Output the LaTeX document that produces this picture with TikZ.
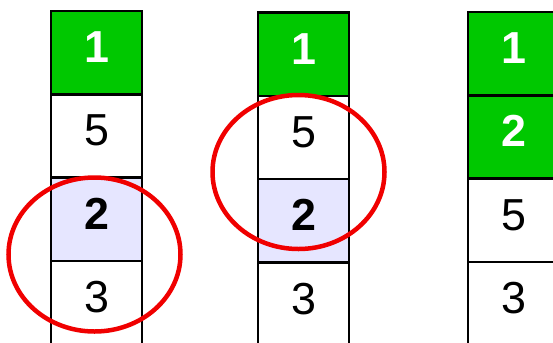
\documentclass[tikz,border=0pt]{standalone}
\usepackage{fontspec}
\setmainfont{Liberation Sans}
\definecolor{cgreen}{RGB}{0,200,0}
\definecolor{clav}{RGB}{230,230,255}
\definecolor{cred}{RGB}{240,0,0}
\tikzset{
  cell/.style={draw=black, line width=2.5bp, minimum width=91bp, minimum height=83.3bp,
    inner sep=0pt, outer sep=0pt, anchor=north west, fill=white, text height=33bp, text depth=13bp,
    font=\fontsize{45}{45}\selectfont},
  done/.style={cell, fill=cgreen, text=white, font=\fontsize{45}{45}\selectfont\bfseries},
  cur/.style={cell, fill=clav, font=\fontsize{45}{45}\selectfont\bfseries},
  openbox/.style={draw=black, line width=2.5bp},
  ring/.style={draw=cred, line width=4.5bp}
}
\begin{document}
\begin{tikzpicture}[x=1bp,y=-1bp]
\useasboundingbox (0,0) rectangle (553,342);
\clip (0,0) rectangle (553,342);
% column 1
\node[done] (a1) at (51,11) {1};
\node[cell] (a2) at (a1.south west) {5};
\node[cur]  (a3) at (a2.south west) {2};
\node[cell] (a4) at (a3.south west) {3};
% column 2
\node[done] (b1) at (258,12.5) {1};
\node[cell] (b2) at (b1.south west) {5};
\node[cur]  (b3) at (b2.south west) {2};
\node[cell] (b4) at (b3.south west) {3};
% column 3
\node[done] (c1) at (468,12) {1};
\node[done] (c2) at (c1.south west) {2};
\node[cell] (c3) at (c2.south west) {5};
\node[cell] (c4) at (c3.south west) {3};
% open bottoms (continuing below)
\draw[openbox] (a4.south west) -- ++(0,30);
\draw[openbox] (a4.south east) -- ++(0,30);
\draw[openbox] (b4.south west) -- ++(0,30);
\draw[openbox] (b4.south east) -- ++(0,30);
\draw[openbox] (c4.south west) -- ++(0,30);
% rings
\draw[ring] (94.5,254.5) ellipse [x radius=86, y radius=77];
\draw[ring] (298.5,172) ellipse [x radius=86, y radius=77];
\end{tikzpicture}
\end{document}
